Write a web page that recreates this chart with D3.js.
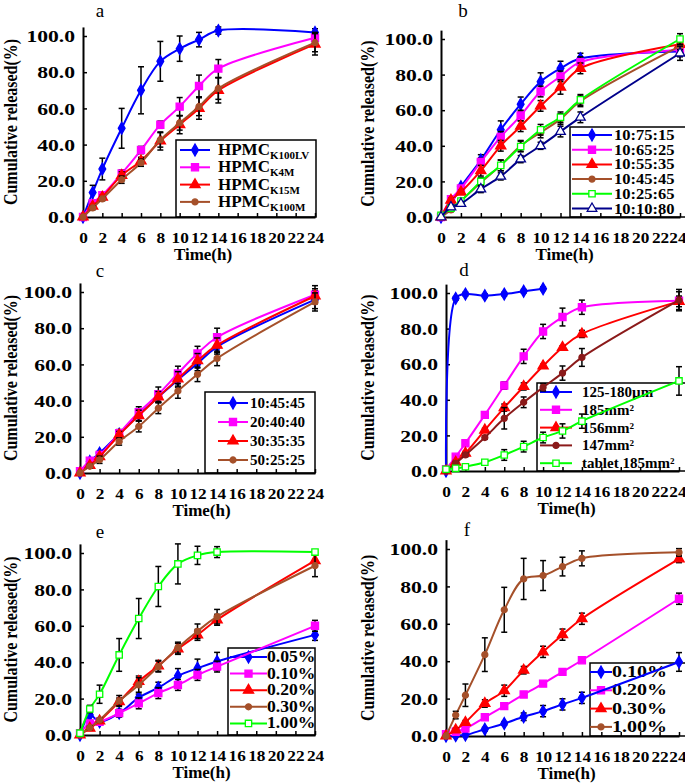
<!DOCTYPE html>
<html>
<head>
<meta charset="utf-8">
<script src="https://cdn.jsdelivr.net/npm/d3@7"></script>
<style>
body { margin: 0; background: #fff; }
svg { display: block; }
text { font-family: "Liberation Serif", "Times New Roman", serif; }
</style>
</head>
<body>
<div id="chart"></div>
<script>
// time points (h)
const hours = [0, 1, 2, 4, 6, 8, 10, 12, 14, 24];
const hoursShort = [0, 1, 2, 4, 6, 8, 10];
const xTicks = [0, 2, 4, 6, 8, 10, 12, 14, 16, 18, 20, 22, 24];
const yTicks = [0, 20, 40, 60, 80, 100];

// panel a
const namesA = ["HPMC", "HPMC", "HPMC", "HPMC"];
const subsA = ["K100LV", "K4M", "K15M", "K100M"];
const valuesA = [
  [0, 13.5, 26.5, 49, 70, 86, 93, 98, 103, 102],
  [0, 7.7, 12, 24, 37, 51, 61, 72.4, 82, 99],
  [0, 6, 11, 23, 31, 42, 51, 60, 70, 95.5],
  [0, 5, 10, 20.6, 30, 42.6, 52, 61, 71, 96.3]
];
const errorsA = [
  [0, 4, 6, 11, 13, 11, 7, 4, 2, 2],
  [0, 1, 1, 2, 2, 2, 5, 6, 5, 3],
  [0, 1, 1, 2, 2, 5, 5, 6, 7, 6],
  [0, 1, 1, 2, 2, 4, 4, 5, 6, 5]
];

// panel b
const namesB = ["10:75:15", "10:65:25", "10:55:35", "10:45:45", "10:25:65", "10:10:80"];
const valuesB = [
  [0, 7.5, 17, 32, 49, 63.4, 76, 83.5, 89, 93],
  [0, 10, 16, 31, 45, 57, 70.5, 79, 87, 94],
  [0, 9.5, 14, 26, 40, 51, 62.4, 73, 83.5, 97],
  [0, 4, 9, 19.4, 29, 40, 47.5, 55, 65, 96],
  [1, 5, 9, 20, 29, 39.6, 49, 56, 65.8, 100],
  [0, 5.6, 7.5, 15.7, 22.8, 32.5, 40, 48, 56, 92]
];
const errorsB = [
  [0, 1, 1, 3, 5, 4, 5, 4, 3, 3],
  [0, 1, 1, 2, 3, 3, 3, 3, 3, 3],
  [0, 1, 1, 3, 3, 3, 3, 4, 3, 3],
  [0, 1, 1, 2, 3, 3, 3, 3, 3, 4],
  [0, 1, 1, 2, 3, 3, 3, 3, 3, 3],
  [0, 1, 1, 2, 2, 2, 2, 3, 3, 4]
];

// panel c
const namesC = ["10:45:45", "20:40:40", "30:35:35", "50:25:25"];
const valuesC = [
  [0, 6.4, 11, 21.5, 32, 42, 51.4, 60.5, 69.7, 95.8],
  [1, 6.8, 10, 22, 33.6, 43.5, 55, 66, 75, 98.5],
  [0, 4.2, 9, 21, 31.7, 42, 52, 62, 70.6, 97.8],
  [0, 3.7, 7.3, 17.4, 25.7, 35.8, 45.3, 54.5, 63.3, 94.5]
];
const errorsC = [
  [0, 1, 1, 2, 3, 3, 4, 4, 4, 5],
  [0, 1, 1, 2, 3, 4, 4, 4, 5, 5],
  [0, 1, 1, 2, 3, 3, 4, 4, 4, 4],
  [0, 1, 2, 2, 3, 3, 4, 4, 4, 5]
];

// panel d
const namesD = ["125-180\u00b5m", "185mm\u00b2", "156mm\u00b2", "147mm\u00b2", "tablet 185mm\u00b2"];
const valuesD = [
  [0, 97, 99.4, 98.5, 99.4, 101, 102.4],
  [1, 8, 15.6, 31.5, 48, 64.4, 78.4, 86.5, 92, 95.7],
  [0, 5, 10, 23, 35.6, 47.5, 59, 69.4, 77, 95.3],
  [0, 4.3, 9, 18.8, 29.6, 38.6, 47, 55, 63.8, 96],
  [1, 1.5, 2.4, 4.9, 9, 13.7, 18.8, 22.5, 28, 50.6]
];
const errorsD = [
  [0, 1, 1, 1, 1, 1, 1],
  [0, 1, 1, 1, 2, 4, 4, 5, 4, 5],
  [0, 1, 1, 1, 2, 2, 1, 1, 2, 3],
  [0, 1, 1, 1, 6, 3, 2, 4, 5, 6],
  [0, 0.5, 0.5, 1, 3, 3, 3, 4, 4, 8]
];

// panel e
const namesE = ["0.05%", "0.10%", "0.20%", "0.30%", "1.00%"];
const valuesE = [
  [0, 11, 7.3, 12, 20.5, 26, 32.5, 36.7, 40.4, 55],
  [1, 6.4, 7.3, 12, 17.4, 23, 27.5, 33, 37.6, 60],
  [0, 3.7, 7.7, 18.3, 29.4, 38, 47.3, 55, 63.3, 95.8],
  [0, 4, 8.3, 18.7, 27.5, 37.6, 48, 57, 65, 93],
  [1, 14.3, 22.4, 44, 64, 81.6, 94, 98.7, 100.5, 100.5]
];
const errorsE = [
  [0, 3, 1, 2, 2, 3, 4, 5, 5, 3],
  [0, 1, 1, 2, 3, 3, 3, 3, 3, 3],
  [0, 1, 1, 2, 3, 3, 3, 3, 3, 3],
  [0, 1, 1, 3, 4, 3, 3, 4, 4, 6],
  [0, 2, 5, 9, 11, 11, 11, 5, 3, 1]
];

// panel f
const namesF = ["0.10%", "0.20%", "0.30%", "1.00%"];
const valuesF = [
  [0, 0.2, 0.5, 3.6, 6.7, 10.3, 13.3, 16.9, 20.4, 39.6],
  [1, 2.3, 4, 10, 16, 22.2, 28, 34.3, 40.5, 73.4],
  [0, 3.2, 7.3, 17.4, 24.2, 35.2, 45, 54.2, 62.7, 94.7],
  [0, 11.2, 21.8, 43.5, 67.5, 84, 85.8, 90.6, 95, 98.2]
];
const errorsF = [
  [0, 0.5, 0.5, 1, 1, 2, 3, 3, 3, 5],
  [0, 0.5, 1, 1, 1, 1, 1, 1, 1, 3],
  [0, 1, 1, 2, 3, 2, 3, 3, 3, 2],
  [0, 2, 6, 9, 12, 11, 8, 5, 4, 2]
];

// marker styles
const BLUE = {color: "#0000ff", shape: d3.symbolDiamond, size: 40, fill: "#0000ff"};
const PINK = {color: "#ff00ff", shape: d3.symbolSquare, size: 50, fill: "#ff00ff"};
const RED = {color: "#ff0000", shape: d3.symbolTriangle, size: 45, fill: "#ff0000"};
const BROWN = {color: "#a5502a", shape: d3.symbolCircle, size: 28, fill: "#a5502a"};
const MAROON = {color: "#8b1a1a", shape: d3.symbolCircle, size: 28, fill: "#8b1a1a"};
const GREEN = {color: "#00ff00", shape: d3.symbolSquare, size: 40, fill: "#fff"};
const NAVY = {color: "#00008b", shape: d3.symbolTriangle, size: 40, fill: "#fff"};

const SY = 1.35; // y tick labels are drawn wide in the original
const SXT = 1.15; // x tick labels too, a bit less

const panels = [
  {tag: "a", names: namesA, subs: subsA, values: valuesA, errors: errorsA,
   styles: [BLUE, PINK, RED, BROWN],
   x0: 83, x1: 315, y0: 217, y100: 36, tagX: 100, tagY: 17, titleX: 17,
   legend: {x: 176, y: 140, w: 140, h: 77, row0: 150, step: 17.3, l0: 180, l1: 210, tx: 218, fs: 17, sx: 1}},
  {tag: "b", names: namesB, values: valuesB, errors: errorsB,
   styles: [BLUE, PINK, RED, BROWN, GREEN, NAVY],
   x0: 441, x1: 680, y0: 217, y100: 39, tagX: 463, tagY: 17, titleX: 374,
   legend: {x: 570, y: 127, w: 116, h: 90, row0: 135, step: 14.7, l0: 572, l1: 612, tx: 614, fs: 15, sx: 1.1}},
  {tag: "c", names: namesC, values: valuesC, errors: errorsC,
   styles: [BLUE, PINK, RED, BROWN],
   x0: 80, x1: 315, y0: 473, y100: 292, tagX: 100, tagY: 277, titleX: 17,
   legend: {x: 205, y: 392, w: 110, h: 81, row0: 403, step: 19, l0: 218, l1: 248, tx: 250, fs: 15, sx: 1}},
  {tag: "d", names: namesD, values: valuesD, errors: errorsD,
   styles: [BLUE, PINK, RED, MAROON, GREEN],
   x0: 446, x1: 679, y0: 471, y100: 293, tagX: 464, tagY: 276, titleX: 374,
   legend: {x: 537, y: 383, w: 150, h: 88, row0: 392, step: 17.8, l0: 540, l1: 572, tx: 582, fs: 15, sx: 1}},
  {tag: "e", names: namesE, values: valuesE, errors: errorsE,
   styles: [BLUE, PINK, RED, BROWN, GREEN],
   x0: 80, x1: 315, y0: 735, y100: 553, tagX: 100, tagY: 538, titleX: 17,
   legend: {x: 228, y: 648, w: 87, h: 87, row0: 657, step: 16.6, l0: 230, l1: 267, tx: 267, fs: 16, sx: 1.1}},
  {tag: "f", names: namesF, values: valuesF, errors: errorsF,
   styles: [BLUE, PINK, RED, BROWN],
   x0: 446, x1: 679, y0: 736, y100: 549, tagX: 467, tagY: 536, titleX: 374,
   legend: {x: 590, y: 663, w: 96, h: 73, row0: 672, step: 18.3, l0: 590, l1: 612, tx: 612, fs: 16, sx: 1.25}}
];

const svg = d3.select("#chart").append("svg")
  .attr("width", 685)
  .attr("height", 784);

panels.forEach(drawPanel);

function drawPanel(p) {
  const g = svg.append("g");
  const x = d3.scaleLinear().domain([0, 24]).range([p.x0, p.x1]);
  const y = d3.scaleLinear().domain([0, 105])
    .range([p.y0, p.y0 - 1.05 * (p.y0 - p.y100)]);

  // legend box first, the series lines run over it
  const L = p.legend;
  g.append("rect")
    .attr("x", L.x).attr("y", L.y).attr("width", L.w).attr("height", L.h)
    .attr("fill", "none").attr("stroke", "#000").attr("stroke-width", 1.5);

  p.names.forEach((name, i) => {
    const st = p.styles[i];
    const ry = L.row0 + i * L.step;
    g.append("line")
      .attr("x1", L.l0).attr("x2", L.l1).attr("y1", ry).attr("y2", ry)
      .attr("stroke", st.color).attr("stroke-width", 2);
    g.append("path")
      .attr("d", d3.symbol().type(st.shape).size(st.size)())
      .attr("transform", `translate(${(L.l0 + L.l1) / 2},${ry})`)
      .attr("fill", st.fill).attr("stroke", st.color).attr("stroke-width", 1.3);
    const t = g.append("text")
      .attr("transform", `translate(${L.tx},${ry + 5}) scale(${L.sx},1)`)
      .attr("font-size", L.fs).attr("font-weight", "bold")
      .text(name);
    if (p.subs) {
      t.append("tspan").attr("font-size", 11).attr("dy", 4).text(p.subs[i]);
    }
  });

  // axes, ticks point inward
  const half = 15 * SXT / 2;
  const xAxis = g.append("g")
    .attr("transform", `translate(0,${p.y0})`)
    .call(d3.axisBottom(x).tickValues(xTicks).tickSizeInner(-4).tickSizeOuter(0));
  xAxis.selectAll("text")
    .attr("x", d => x(d) + half > 686 ? (686 - half - x(d)) / SXT : 0)
    .attr("y", 26).attr("dy", 0)
    .attr("transform", `scale(${SXT},1)`)
    .attr("font-size", 15).attr("font-weight", "bold")
    .attr("font-family", "Liberation Serif").attr("fill", "#000");

  const yAxis = g.append("g")
    .attr("transform", `translate(${p.x0},0)`)
    .call(d3.axisLeft(y).tickValues(yTicks).tickSizeInner(-4).tickSizeOuter(0)
      .tickFormat(d3.format(".1f")));
  yAxis.selectAll("text").attr("x", -8 / SY).attr("dy", "0.36em")
    .attr("transform", `scale(${SY},1)`)
    .attr("font-size", 16).attr("font-weight", "bold")
    .attr("font-family", "Liberation Serif").attr("fill", "#000");

  g.selectAll(".domain").attr("stroke", "#000").attr("stroke-width", 2);
  g.selectAll(".tick line").attr("stroke", "#000").attr("stroke-width", 1.5);

  g.append("text")
    .attr("x", (p.x0 + p.x1) / 2 + 4).attr("y", p.y0 + 43)
    .attr("text-anchor", "middle").attr("font-size", 17).attr("font-weight", "bold")
    .text("Time(h)");

  g.append("text")
    .attr("transform", `translate(${p.titleX},${(p.y0 + y(105)) / 2}) scale(1.15,1) rotate(-90)`)
    .attr("text-anchor", "middle").attr("font-size", 16).attr("font-weight", "bold")
    .text("Cumulative released(%)");

  g.append("text")
    .attr("x", p.tagX).attr("y", p.tagY)
    .attr("text-anchor", "middle").attr("font-size", 19)
    .text(p.tag);

  // series
  const line = d3.line()
    .x(d => x(d[0])).y(d => y(d[1]))
    .curve(d3.curveCatmullRom.alpha(0.5));

  p.values.forEach((vals, i) => {
    const st = p.styles[i];
    const ts = vals.length === hours.length ? hours : hoursShort;
    const pts = vals.map((v, k) => [ts[k], v, p.errors[i][k]]);

    g.append("path")
      .datum(pts)
      .attr("d", line)
      .attr("fill", "none").attr("stroke", st.color).attr("stroke-width", 2);

    const eb = g.append("g").attr("stroke", "#000").attr("stroke-width", 1.5);
    pts.filter(d => d[2] > 0).forEach(d => {
      const cx = x(d[0]);
      eb.append("line").attr("x1", cx).attr("x2", cx)
        .attr("y1", y(d[1] - d[2])).attr("y2", y(d[1] + d[2]));
      [d[1] - d[2], d[1] + d[2]].forEach(v => {
        eb.append("line").attr("x1", cx - 3).attr("x2", cx + 3)
          .attr("y1", y(v)).attr("y2", y(v));
      });
    });

    g.selectAll(null)
      .data(pts)
      .join("path")
      .attr("d", d3.symbol().type(st.shape).size(st.size)())
      .attr("transform", d => `translate(${x(d[0])},${y(d[1])})`)
      .attr("fill", st.fill).attr("stroke", st.color).attr("stroke-width", 1.3);
  });
}
</script>
</body>
</html>
